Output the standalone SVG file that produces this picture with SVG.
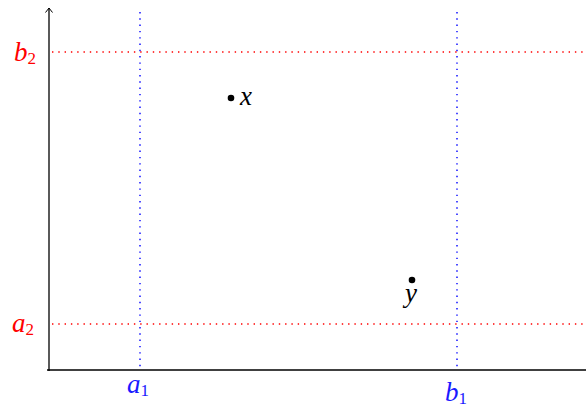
<svg xmlns="http://www.w3.org/2000/svg" width="586" height="408" viewBox="0 0 586 408">
<style>
.ax{stroke:#000;stroke-width:1.3;fill:none}
.vb{stroke:#0000ff;stroke-width:1.4;stroke-dasharray:1.4 4.9;fill:none}
.hr{stroke:#ff0000;stroke-width:1.4;stroke-dasharray:1.4 4.9;fill:none}
</style>
<g id="connectors">
<line class="vb" x1="140" y1="12" x2="140" y2="370"/>
<line class="vb" x1="457" y1="12" x2="457" y2="370"/>
<line class="hr" x1="52" y1="52" x2="586" y2="52"/>
<line class="hr" x1="52" y1="324" x2="586" y2="324"/>
<line class="ax" x1="49" y1="371" x2="49" y2="8"/>
<path d="M45.5,12.5 L49,8 L52.5,12.5" fill="none" stroke="#000" stroke-width="1"/>
<line class="ax" x1="47" y1="370" x2="586" y2="370"/>
</g>
<g font-family="Liberation Serif, serif" font-style="italic" font-size="27">
<g id="label-b2"><text fill="#ff0000" x="14" y="61">b<tspan font-style="normal" font-size="17" dy="3">2</tspan></text></g>
<g id="label-a2"><text fill="#ff0000" x="12" y="332">a<tspan font-style="normal" font-size="17" dy="3">2</tspan></text></g>
<g id="label-a1"><text fill="#1a1aff" x="127" y="393">a<tspan font-style="normal" font-size="17" dy="3">1</tspan></text></g>
<g id="label-b1"><text fill="#1a1aff" x="445" y="401">b<tspan font-style="normal" font-size="17" dy="3">1</tspan></text></g>
<g id="point-x"><circle cx="231" cy="98" r="3.3" fill="#000"/><text x="240" y="105">x</text></g>
<g id="point-y"><circle cx="412" cy="280" r="3.3" fill="#000"/><text x="405" y="302">y</text></g>
</g>
</svg>
